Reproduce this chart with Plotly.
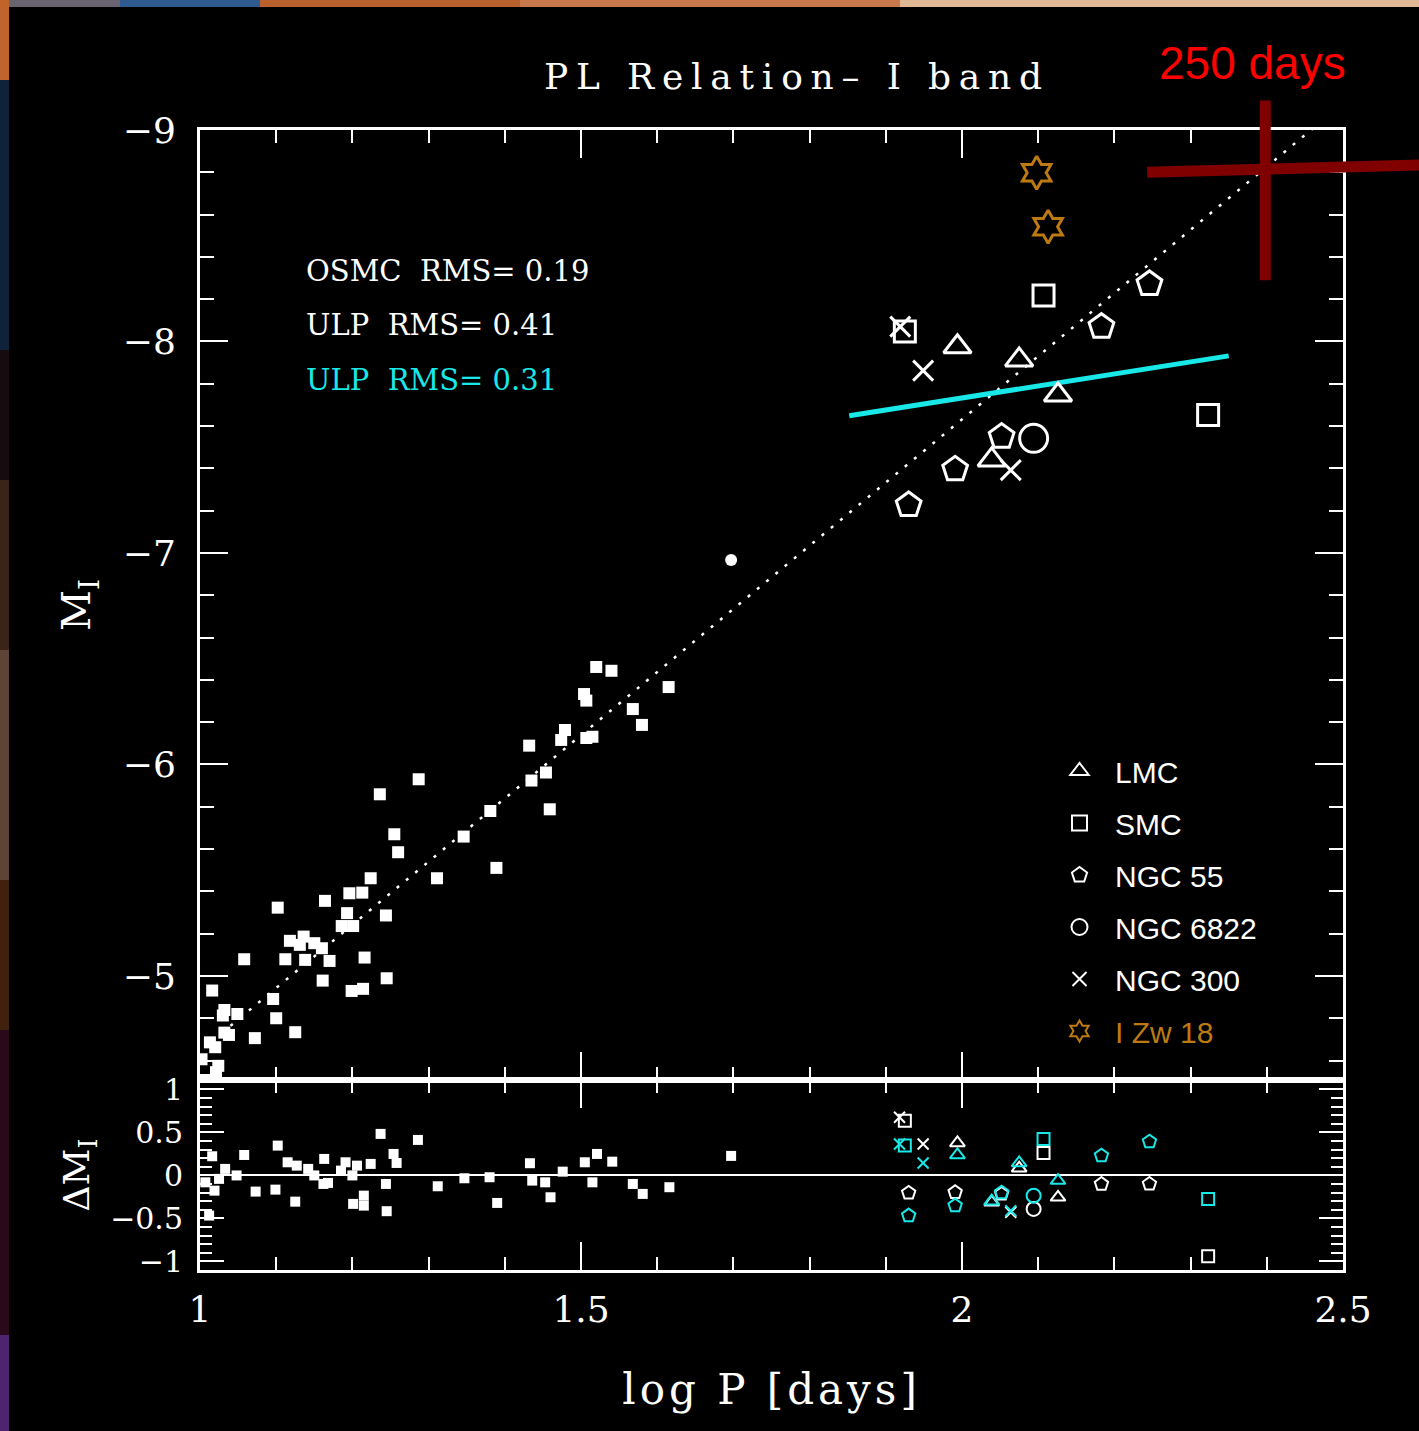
import math
import plotly.graph_objects as go

# ---------------- data ----------------
# OSMC Cepheids (filled squares), main panel
osmc_logP = [1.520, 1.540, 1.615, 1.504, 1.507, 1.568, 1.580, 1.479, 1.474, 1.507,
             1.515, 1.432, 1.454, 1.435, 1.459, 1.287, 1.236, 1.381, 1.346, 1.255,
             1.260, 1.389, 1.311, 1.224, 1.196, 1.213, 1.164, 1.102, 1.193, 1.244,
             1.186, 1.201, 1.118, 1.136, 1.131, 1.150, 1.160, 1.112, 1.138, 1.170,
             1.216, 1.058, 1.161, 1.245, 1.199, 1.214, 1.016, 1.096, 1.032, 1.030,
             1.049, 1.100, 1.032, 1.038, 1.072, 1.125, 1.013, 1.020, 1.002, 1.024,
             1.021, 1.007]
osmc_MI = [-6.461, -6.443, -6.366, -6.333, -6.302, -6.262, -6.187, -6.163, -6.116, -6.125,
           -6.131, -6.089, -5.962, -5.924, -5.788, -5.930, -5.859, -5.780, -5.659, -5.670,
           -5.585, -5.511, -5.462, -5.462, -5.391, -5.394, -5.355, -5.323, -5.297, -5.286,
           -5.236, -5.236, -5.166, -5.186, -5.147, -5.155, -5.131, -5.079, -5.076, -5.071,
           -5.087, -5.079, -4.978, -4.989, -4.929, -4.939, -4.931, -4.891, -4.839, -4.813,
           -4.820, -4.800, -4.732, -4.721, -4.706, -4.734, -4.686, -4.663, -4.606, -4.575,
           -4.545, -4.508]
extra_logP = [1.697]
extra_MI = [-6.967]

# OSMC residuals (bottom panel)
osmc_res_logP = [1.237, 1.286, 1.102, 1.058, 1.016, 1.163, 1.254, 1.258, 1.115, 1.127,
                 1.142, 1.191, 1.206, 1.224, 1.185, 1.200, 1.150, 1.162, 1.033, 1.048,
                 1.025, 1.007, 1.019, 1.012, 1.073, 1.099, 1.125, 1.168, 1.201, 1.215,
                 1.215, 1.244, 1.245, 1.312, 1.347, 1.380, 1.390, 1.433, 1.436, 1.453,
                 1.460, 1.476, 1.505, 1.521, 1.515, 1.541, 1.568, 1.581, 1.616, 1.697]
osmc_res_dM = [0.483, 0.413, 0.347, 0.238, 0.223, 0.192, 0.250, 0.145, 0.153, 0.114,
               0.076, 0.153, 0.114, 0.134, 0.056, 0.000, 0.000, -0.099, 0.076, 0.000,
               -0.040, -0.080, -0.177, -0.467, -0.188, -0.165, -0.305, -0.087, -0.331, -0.351,
               -0.235, -0.099, -0.416, -0.126, -0.033, -0.021, -0.320, 0.142, -0.060, -0.080,
               -0.254, 0.044, 0.153, 0.250, -0.080, 0.160, -0.099, -0.215, -0.137, 0.227]

# ULP Cepheids, main panel
galaxies = ["LMC", "SMC", "NGC 55", "NGC 6822", "NGC 300", "I Zw 18"]
lmc_logP = [1.994, 2.075, 2.126, 2.039]
lmc_MI = [-7.975, -7.913, -7.747, -7.440]
smc_logP = [2.107, 2.323, 1.925]
smc_MI = [-8.217, -7.652, -8.047]
n55_logP = [2.246, 2.183, 2.052, 1.991, 1.930]
n55_MI = [-8.272, -8.070, -7.550, -7.396, -7.227]
n6822_logP = [2.094]
n6822_MI = [-7.542]
n300_logP = [1.919, 1.949, 2.064]
n300_MI = [-8.070, -7.862, -7.392]
izw_logP = [2.098, 2.113]
izw_MI = [-8.798, -8.543]

# ULP residuals (white: OSMC relation, cyan: ULP relation)
lmc_res_logP = [1.994, 2.075, 2.126, 2.039]
lmc_res_white = [0.378, 0.084, -0.254, -0.312]
lmc_res_cyan = [0.238, 0.145, -0.060, -0.300]
smc_res_logP = [1.925, 2.107, 2.323]
smc_res_white = [0.637, 0.262, -0.940]
smc_res_cyan = [0.347, 0.424, -0.273]
n55_res_logP = [2.246, 2.183, 2.052, 1.991, 1.930]
n55_res_white = [-0.099, -0.100, -0.215, -0.196, -0.203]
n55_res_cyan = [0.393, 0.230, -0.200, -0.351, -0.467]
n6822_res_logP = [2.094]
n6822_res_white = [-0.390]
n6822_res_cyan = [-0.235]
n300_res_logP = [1.918, 1.949, 2.064]
n300_res_white = [0.677, 0.366, -0.428]
n300_res_cyan = [0.366, 0.145, -0.410]

# fits (end points)
fit_osmc_logP = [1.04, 2.46]
fit_osmc_MI = [-4.764, -9.006]
fit_ulp_logP = [1.852, 2.350]
fit_ulp_MI = [-7.649, -7.932]

rms_labels = ["OSMC\u00a0 RMS= 0.19", "ULP\u00a0 RMS= 0.41", "ULP\u00a0 RMS= 0.31"]
rms_logP = [1.136, 1.136, 1.136]
rms_MI = [-8.333, -8.076, -7.820]

marker_days = 250
marker_MI = -8.815

# ---------------- layout geometry ----------------
W, H = 1419, 1431
ML, MR, MT, MB = 200, 76, 130, 161
PW, PH = W - ML - MR, H - MT - MB
SPLIT_PX = 1080
RES_TOP = (H - MB - SPLIT_PX) / PH
XR = [1.0, 2.5]
YR_MAIN = [-4.508, -9.0]
YR_RES = [-1.10, 1.11]


def pxx(p):
    return (p - ML) / PW


def pxy(p):
    return (H - MB - p) / PH


def main_paper(x, y):
    fx = (x - XR[0]) / (XR[1] - XR[0])
    fy = RES_TOP + (1 - RES_TOP) * (y - YR_MAIN[0]) / (YR_MAIN[1] - YR_MAIN[0])
    return fx, fy


WHITE = "white"
CYAN = "#18e8e8"
ORANGE = "#bd7a12"
SERIF = "DejaVu Serif"
SANS = "Liberation Sans"

fig = go.Figure()

# fit lines
fig.add_trace(go.Scatter(x=fit_osmc_logP, y=fit_osmc_MI, mode="lines", xaxis="x2", yaxis="y",
                         line=dict(color=WHITE, width=2.5, dash="3px,9px"), showlegend=False))
fig.add_trace(go.Scatter(x=fit_ulp_logP, y=fit_ulp_MI, mode="lines", xaxis="x2", yaxis="y",
                         line=dict(color=CYAN, width=5), showlegend=False))

# OSMC
fig.add_trace(go.Scatter(x=osmc_logP, y=osmc_MI, mode="markers", xaxis="x2", yaxis="y",
                         marker=dict(symbol="square", size=12, color=WHITE), showlegend=False))
fig.add_trace(go.Scatter(x=extra_logP, y=extra_MI, mode="markers", xaxis="x2", yaxis="y",
                         marker=dict(symbol="circle", size=12, color=WHITE), showlegend=False))

main_sets = [
    ("LMC", lmc_logP, lmc_MI, "triangle-up-open", 24, WHITE),
    ("SMC", smc_logP, smc_MI, "square-open", 21, WHITE),
    ("NGC 55", n55_logP, n55_MI, "pentagon-open", 26, WHITE),
    ("NGC 6822", n6822_logP, n6822_MI, "circle-open", 28, WHITE),
    ("NGC 300", n300_logP, n300_MI, "x-thin-open", 20, WHITE),
    ("I Zw 18", izw_logP, izw_MI, "hexagram-open", 25, ORANGE),
]
legend_sizes = {"LMC": 16, "SMC": 15, "NGC 55": 17, "NGC 6822": 18, "NGC 300": 14, "I Zw 18": 17}
for name, xs, ys, sym, sz, col in main_sets:
    fig.add_trace(go.Scatter(x=xs, y=ys, mode="markers", xaxis="x2", yaxis="y", name=name,
                             showlegend=False,
                             marker=dict(symbol=sym, size=sz, color=col,
                                         line=dict(width=3, color=col))))
# legend entries (smaller symbols, as in the reference key)
for name, xs, ys, sym, sz, col in main_sets:
    label = name if col == WHITE else f"<span style='color:{ORANGE}'>{name}</span>"
    fig.add_trace(go.Scatter(x=[None], y=[None], mode="markers", xaxis="x2", yaxis="y",
                             name=label, legendgroup=name,
                             marker=dict(symbol=sym, size=legend_sizes[name], color=col,
                                         line=dict(width=2, color=col))))

# residual panel
fig.add_trace(go.Scatter(x=osmc_res_logP, y=osmc_res_dM, mode="markers", xaxis="x", yaxis="y2",
                         marker=dict(symbol="square", size=10, color=WHITE), showlegend=False))
res_sets = [
    (lmc_res_logP, lmc_res_white, lmc_res_cyan, "triangle-up-open", 13),
    (smc_res_logP, smc_res_white, smc_res_cyan, "square-open", 12),
    (n55_res_logP, n55_res_white, n55_res_cyan, "pentagon-open", 14),
    (n6822_res_logP, n6822_res_white, n6822_res_cyan, "circle-open", 14),
    (n300_res_logP, n300_res_white, n300_res_cyan, "x-thin-open", 11),
]
for xs, yw, yc, sym, sz in res_sets:
    for ys, col in ((yw, WHITE), (yc, CYAN)):
        fig.add_trace(go.Scatter(x=xs, y=ys, mode="markers", xaxis="x", yaxis="y2",
                                 marker=dict(symbol=sym, size=sz, color=col,
                                             line=dict(width=2, color=col)),
                                 showlegend=False))

# RMS texts
for t, xx, yy, col in zip(rms_labels, rms_logP, rms_MI, [WHITE, WHITE, CYAN]):
    fig.add_annotation(x=xx, y=yy, xref="x2", yref="y", text=t, showarrow=False,
                       xanchor="left", yanchor="middle",
                       font=dict(family=SERIF, size=29, color=col))

# title and 250-day marker
fig.add_annotation(x=pxx(797), y=pxy(77), xref="paper", yref="paper", showarrow=False,
                   text="<span style='letter-spacing:7.8px'>PL Relation\u2013\u00a0I band</span>",
                   font=dict(family=SERIF, size=36, color=WHITE), xanchor="center", yanchor="middle")
fig.add_annotation(x=pxx(1252), y=pxy(63), xref="paper", yref="paper", showarrow=False,
                   text=f"{marker_days} days", font=dict(family=SANS, size=46, color="#ff0000"),
                   xanchor="center", yanchor="middle")

lp = math.log10(marker_days)
vx0, vy0 = main_paper(lp, -9.14)
vx1, vy1 = main_paper(lp, -8.29)
hx0, hy0 = main_paper(2.243, marker_MI + 0.015)
hx1, hy1 = main_paper(2.60, marker_MI - 0.02)
shapes = [
    dict(type="line", xref="paper", yref="paper", x0=vx0, y0=vy0, x1=vx1, y1=vy1,
         line=dict(color="#800000", width=11), layer="above"),
    dict(type="line", xref="paper", yref="paper", x0=hx0, y0=hy0, x1=hx1, y1=hy1,
         line=dict(color="#800000", width=11), layer="above"),
]

# decorative slide background strips at top and left edge
top_strips = [(0, 120, "#6a6470"), (120, 260, "#2f5a90"), (260, 520, "#b8602e"),
              (520, 900, "#c8784a"), (900, 1419, "#e0b896")]
for a, b, c in top_strips:
    shapes.append(dict(type="rect", xref="paper", yref="paper", x0=pxx(a), x1=pxx(b),
                       y0=pxy(7), y1=pxy(0), fillcolor=c, line=dict(width=0), layer="below"))
left_strips = [(0, 80, "#c0642c"), (80, 350, "#10223a"), (350, 480, "#160c10"),
               (480, 650, "#3a2418"), (650, 880, "#5e4436"), (880, 1030, "#42200e"),
               (1030, 1335, "#2a0a1a"), (1335, 1431, "#4e2470")]
for a, b, c in left_strips:
    shapes.append(dict(type="rect", xref="paper", yref="paper", x0=pxx(0), x1=pxx(9),
                       y0=pxy(b), y1=pxy(a), fillcolor=c, line=dict(width=0), layer="below"))

axis_common = dict(showline=True, linecolor=WHITE, linewidth=3, mirror="allticks",
                   ticks="inside", tickcolor=WHITE, tickwidth=2, showgrid=False,
                   zeroline=False)

fig.update_layout(
    width=W, height=H,
    margin=dict(l=ML, r=MR, t=MT, b=MB, pad=0),
    paper_bgcolor="black", plot_bgcolor="black",
    showlegend=True,
    legend=dict(x=pxx(1044), y=pxy(745), xanchor="left", yanchor="top",
                bgcolor="rgba(0,0,0,0)", font=dict(family=SANS, size=30, color=WHITE),
                itemsizing="trace", tracegroupgap=10, itemwidth=61),
    xaxis=dict(domain=[0, 1], anchor="y2", range=XR, tickmode="linear", tick0=1, dtick=0.5,
               ticklen=28, minor=dict(dtick=0.1, ticklen=13, ticks="inside", tickcolor=WHITE, tickwidth=2),
               tickfont=dict(family=SERIF, size=36, color=WHITE), ticklabelstandoff=6,
               title=dict(text="<span style='letter-spacing:4px'>log\u00a0P\u00a0[days]</span>",
                          font=dict(family=SERIF, size=42, color=WHITE), standoff=46),
               **axis_common),
    xaxis2=dict(domain=[0, 1], anchor="y", matches="x", range=XR, tickmode="linear", tick0=1,
                dtick=0.5, ticklen=28, showticklabels=False,
                minor=dict(dtick=0.1, ticklen=13, ticks="inside", tickcolor=WHITE, tickwidth=2),
                **axis_common),
    yaxis=dict(domain=[RES_TOP, 1], anchor="x2", range=YR_MAIN, tickmode="linear", tick0=-9,
               dtick=1, ticklen=28,
               minor=dict(dtick=0.2, ticklen=14, ticks="inside", tickcolor=WHITE, tickwidth=2),
               tickfont=dict(family=SERIF, size=36, color=WHITE), ticklabelstandoff=14,
               title=dict(text="M<sub>I</sub>", font=dict(family=SERIF, size=40, color=WHITE),
                          standoff=20),
               **axis_common),
    yaxis2=dict(domain=[0, RES_TOP], anchor="x", range=YR_RES, tickmode="linear", tick0=0,
                dtick=0.5, ticklen=24,
                minor=dict(dtick=0.1, ticklen=12, ticks="inside", tickcolor=WHITE, tickwidth=2),
                tickfont=dict(family=SERIF, size=30, color=WHITE), ticklabelstandoff=8,
                title=dict(text="\u0394M<sub>I</sub>", font=dict(family=SERIF, size=36, color=WHITE),
                           standoff=10),
                **{k: v for k, v in axis_common.items() if k != "zeroline"},
                zeroline=True, zerolinecolor=WHITE, zerolinewidth=2),
    shapes=shapes,
)

fig.write_html("out.html", config={"displayModeBar": False},
               post_script="document.body.style.margin='0';document.body.style.background='black';")
